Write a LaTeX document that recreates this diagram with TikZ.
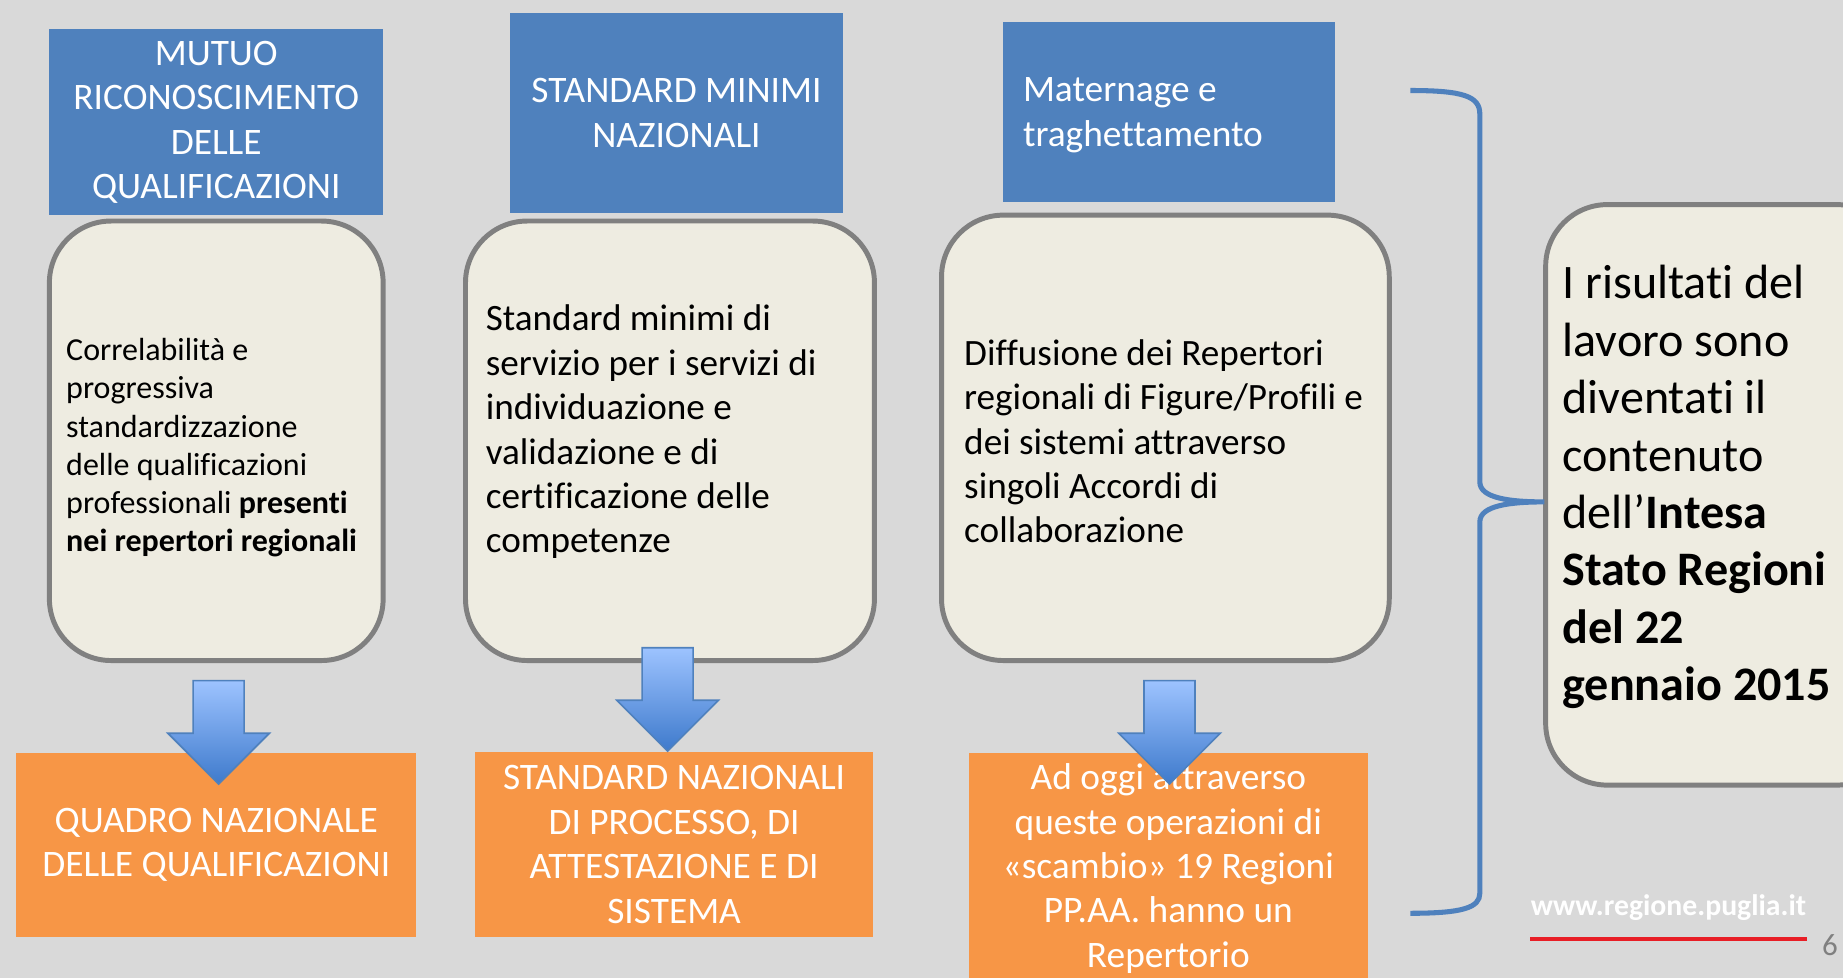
\documentclass[tikz,border=0pt]{standalone}
\usepackage{fontspec}
\setmainfont{Carlito}[Ligatures={TeX,NoCommon}]
\usetikzlibrary{shapes.arrows}
\usepackage{xcolor}
\definecolor{slidebg}{RGB}{217,217,217}
\definecolor{headblue}{RGB}{79,129,189}
\definecolor{boxcream}{RGB}{238,236,225}
\definecolor{boxgray}{RGB}{128,128,128}
\definecolor{resorange}{RGB}{247,150,70}
\definecolor{arrowtop}{RGB}{157,195,255}
\definecolor{arrowbot}{RGB}{62,122,204}
\definecolor{footred}{RGB}{232,30,38}

\begin{document}
\begin{tikzpicture}[x=0.02cm,y=-0.02cm,
  bluebox/.style={fill=headblue,text=white,inner sep=0pt,align=center,font=\fontsize{18.1}{21.5}\selectfont},
  cardbox/.style={fill=boxcream,draw=boxgray,line width=2.4pt,rounded corners=1.05cm,inner sep=0pt},
  cardtext/.style={anchor=west,inner sep=0pt,align=left,font=\fontsize{18}{21.5}\selectfont},
  orangebox/.style={fill=resorange,text=white,inner sep=0pt,align=center,font=\fontsize{18.1}{21.5}\selectfont},
  blockarrow/.style={single arrow,shape border rotate=270,minimum width=1.70cm,minimum height=1.76cm,single arrow head extend=0.43cm,single arrow tip angle=90,inner sep=0.42cm,draw=headblue,line width=0.8pt,top color=arrowtop,bottom color=arrowbot},
  bracepath/.style={draw=headblue,line width=2.45pt}]
\useasboundingbox (0,0) rectangle (1568,832);
\fill[slidebg] (0,0) rectangle (1568,832);
\clip (0,0) rectangle (1568,832);

\node[bluebox,minimum width=5.68cm,minimum height=3.16cm] (mutuo) at (184,104) {MUTUO\\RICONOSCIMENTO\\DELLE\\QUALIFICAZIONI};
\node[bluebox,minimum width=5.66cm,minimum height=3.40cm] (minimi) at (575.5,96) {STANDARD MINIMI\\NAZIONALI};
\node[bluebox,minimum width=5.66cm,minimum height=3.06cm] (maternage) at (994.5,95.5) {};
\node[cardtext,text=white,font=\fontsize{18.1}{21.5}\selectfont] (maternagetext) at (870,98) {Maternage e\\traghettamento};

\node[cardbox,minimum width=5.68cm,minimum height=7.48cm] (correl) at (184,375) {};
\node[cardbox,minimum width=6.96cm,minimum height=7.48cm] (servizi) at (570,375) {};
\node[cardbox,minimum width=7.62cm,minimum height=7.58cm] (diffusione) at (991.5,372.5) {};
\node[cardbox,minimum width=6.00cm,minimum height=9.88cm] (risultati) at (1465,421) {};
\node[cardtext,font=\fontsize{15.5}{18.5}\selectfont] (correltext) at (56,381) {Correlabilità e\\progressiva\\standardizzazione\\delle qualificazioni\\professionali \textbf{presenti}\\\textbf{nei repertori regionali}};
\node[cardtext] (servizitext) at (413,367.5) {Standard minimi di\\servizio per i servizi di\\individuazione e\\validazione e di\\certificazione delle\\competenze};
\node[cardtext] (diffusionetext) at (820,375.5) {Diffusione dei Repertori\\regionali di Figure/Profili e\\dei sistemi attraverso\\singoli Accordi di\\collaborazione};
\node[cardtext,font=\fontsize{23.3}{27.8}\selectfont] (risultatitext) at (1329,414.5) {I risultati del\\lavoro sono\\diventati il\\contenuto\\dell’\textbf{Intesa}\\\textbf{Stato Regioni}\\\textbf{del 22}\\\textbf{gennaio 2015}};

\node[orangebox,minimum width=6.80cm,minimum height=3.14cm] (quadro) at (184,719) {QUADRO NAZIONALE\\DELLE QUALIFICAZIONI};
\node[orangebox,minimum width=6.78cm,minimum height=3.14cm] (processo) at (573.5,718.5) {STANDARD NAZIONALI\\DI PROCESSO, DI\\ATTESTAZIONE E DI\\SISTEMA};
\node[orangebox,minimum width=6.80cm,minimum height=3.92cm] (repertorio) at (994,739) {Ad oggi attraverso\\queste operazioni di\\«scambio» 19 Regioni\\PP.AA. hanno un\\Repertorio};

\node[blockarrow,anchor=tip] (arrow1) at (186,668) {};
\node[blockarrow,anchor=tip] (arrow2) at (568,640) {};
\node[blockarrow,anchor=tip] (arrow3) at (995,668) {};

\coordinate (bracetip) at (1314,427);
\draw[bracepath] (1200,77) .. controls (1245,77) and (1259,82) .. (1259,97) -- (1259,410) .. controls (1259,424) and (1285,427) .. (bracetip) .. controls (1285,427) and (1259,430) .. (1259,444) -- (1259,760) .. controls (1259,772) and (1245,777) .. (1200,777);

\node[anchor=west,inner sep=0pt,text=white,font=\bfseries\fontsize{14.4}{16}\selectfont] (web) at (1302,772) {www.regione.puglia.it};
\draw[footred,line width=2pt] (1302,799) -- (1537,799);
\node[text=boxgray,inner sep=0pt,font=\fontsize{15}{18}\selectfont] (page) at (1557,804) {6};
\end{tikzpicture}
\end{document}
